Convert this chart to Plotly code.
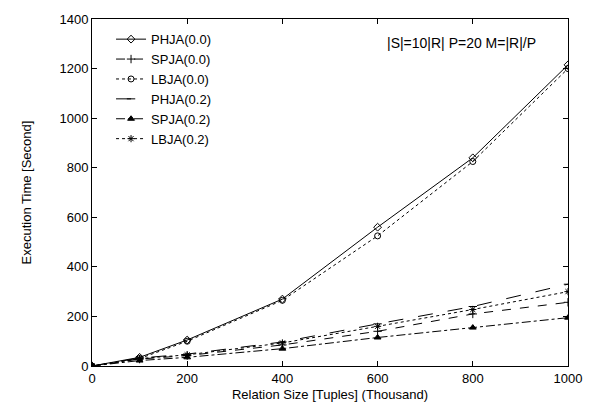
import plotly.graph_objects as go

x_vals = [0, 100, 200, 400, 600, 800, 1000]

phja_00 = [0, 35, 105, 270, 560, 840, 1215]
spja_00 = [0, 28, 42, 85, 140, 210, 257]
lbja_00 = [0, 30, 100, 265, 525, 825, 1200]
phja_02 = [0, 32, 48, 97, 170, 240, 330]
spja_02 = [0, 22, 35, 70, 115, 155, 195]
lbja_02 = [0, 30, 45, 93, 160, 228, 300]

series_names = ["PHJA(0.0)", "SPJA(0.0)", "LBJA(0.0)", "PHJA(0.2)", "SPJA(0.2)", "LBJA(0.2)"]
series_values = [phja_00, spja_00, lbja_00, phja_02, spja_02, lbja_02]
dashes = ["solid", "dash", "dot", "longdash", "dashdot", "dot"]
symbols = ["diamond-open", "cross-thin", "circle-open", "line-ew", "triangle-up", "asterisk"]

fig = go.Figure()
for name, vals, d, s in zip(series_names, series_values, dashes, symbols):
    fig.add_trace(go.Scatter(
        x=x_vals, y=vals, name=name, mode="lines+markers",
        line=dict(color="black", width=1, dash=d),
        marker=dict(symbol=s, size=6, color="black", line=dict(color="black", width=1)),
    ))

fig.add_annotation(text="|S|=10|R| P=20 M=|R|/P", xref="paper", yref="paper",
                   x=0.936, y=0.93, xanchor="right", yanchor="middle", showarrow=False,
                   font=dict(size=14, color="black"))

axis_common = dict(showline=True, linecolor="black", linewidth=1, mirror="ticks",
                   ticks="inside", ticklen=5, tickcolor="black", showgrid=False,
                   zeroline=False, tickfont=dict(size=13, color="black"))

fig.update_layout(
    width=594, height=412,
    margin=dict(l=92, r=16, t=15, b=44),
    paper_bgcolor="white", plot_bgcolor="white",
    font=dict(family="Liberation Sans, Arial, sans-serif", size=13, color="black"),
    xaxis=dict(range=[0, 1000], tickvals=[0, 200, 400, 600, 800, 1000],
               title=dict(text="Relation Size [Tuples] (Thousand)", font=dict(size=13), standoff=5),
               **axis_common),
    yaxis=dict(range=[0, 1400], tickvals=[0, 200, 400, 600, 800, 1000, 1200, 1400],
               title=dict(text="Execution Time [Second]", font=dict(size=13), standoff=24),
               **axis_common),
    legend=dict(x=0.04, y=0.985, xanchor="left", yanchor="top", bgcolor="rgba(0,0,0,0)",
                font=dict(size=13), tracegroupgap=0, itemwidth=30),
    showlegend=True,
)

fig.write_html("out.html")
